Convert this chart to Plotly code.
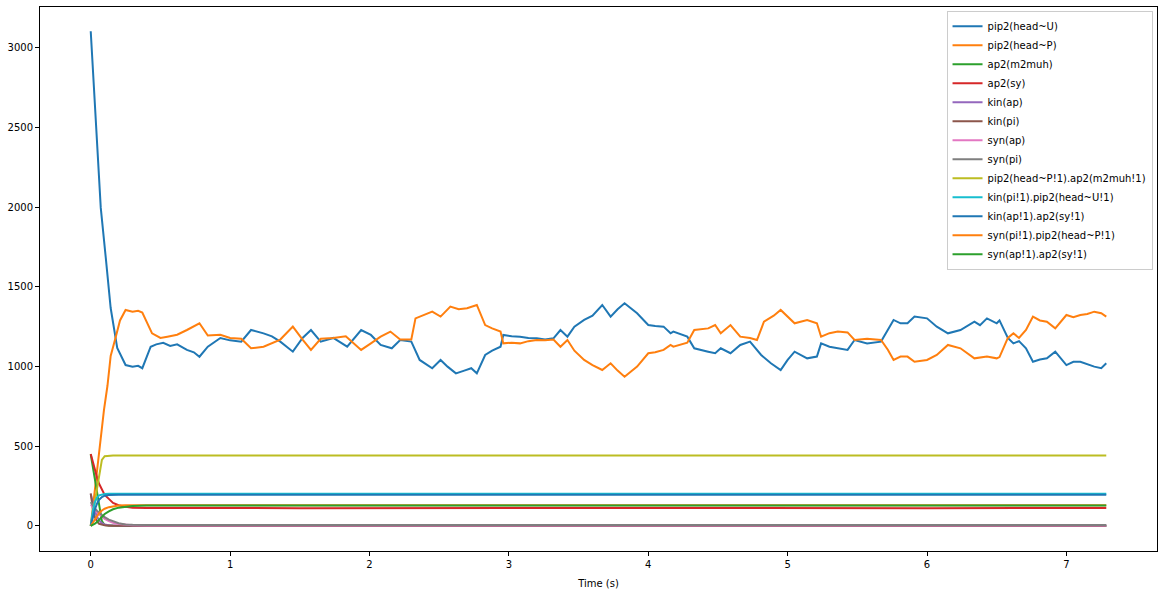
import plotly.graph_objects as go

# pip2 free forms (time in s, copy number)
t_pip2_u = [0, 0.024, 0.048, 0.072, 0.108, 0.143, 0.19, 0.23, 0.25, 0.30, 0.34, 0.37, 0.43, 0.47,
            0.52, 0.57, 0.62, 0.69, 0.74, 0.78, 0.84, 0.93, 1.00, 1.08, 1.15, 1.24, 1.30, 1.36,
            1.45, 1.52, 1.58, 1.65, 1.74, 1.84, 1.94, 2.01, 2.08, 2.16, 2.22, 2.30, 2.36, 2.45,
            2.51, 2.56, 2.62, 2.68, 2.73, 2.77, 2.83, 2.88, 2.94, 2.96, 3.02, 3.08, 3.14, 3.20,
            3.26, 3.32, 3.37, 3.42, 3.47, 3.54, 3.60, 3.67, 3.73, 3.78, 3.83, 3.92, 4.00, 4.05,
            4.11, 4.16, 4.18, 4.28, 4.33, 4.43, 4.48, 4.52, 4.59, 4.66, 4.73, 4.81, 4.88, 4.95,
            5.00, 5.05, 5.14, 5.21, 5.24, 5.30, 5.36, 5.43, 5.48, 5.57, 5.67, 5.72, 5.76, 5.81,
            5.86, 5.91, 6.00, 6.07, 6.15, 6.24, 6.34, 6.38, 6.43, 6.50, 6.52, 6.58, 6.62, 6.66,
            6.71, 6.76, 6.81, 6.86, 6.92, 7.00, 7.05, 7.10, 7.15, 7.20, 7.25, 7.286]
pip2_u = [3105, 2728, 2414, 1996, 1682, 1368, 1117, 1040, 1010, 1000, 1005, 990, 1125, 1140,
          1150, 1130, 1140, 1105, 1090, 1062, 1125, 1180, 1165, 1157, 1230, 1209, 1190, 1157,
          1094, 1180, 1230, 1157, 1180, 1125, 1230, 1199, 1136, 1115, 1167, 1157, 1042, 990,
          1042, 1000, 958, 975, 990, 958, 1073, 1100, 1125, 1199, 1190, 1188, 1180, 1178,
          1170, 1178, 1230, 1188, 1251, 1293, 1320, 1387, 1314, 1360, 1398, 1335, 1261, 1255,
          1251, 1209, 1220, 1188, 1115, 1094, 1084, 1115, 1084, 1136, 1157, 1073, 1021, 979,
          1042, 1094, 1052, 1063, 1146, 1125, 1115, 1105, 1167, 1146, 1157, 1230, 1293, 1272,
          1272, 1314, 1303, 1251, 1209, 1230, 1282, 1260, 1303, 1272, 1290, 1180, 1146, 1160,
          1115, 1031, 1045, 1052, 1094, 1010, 1030, 1031, 1015, 1000, 990, 1021]

t_pip2_p = [0, 0.02, 0.04, 0.06, 0.08, 0.095, 0.12, 0.143, 0.18, 0.21, 0.25, 0.30, 0.34, 0.37,
            0.44, 0.50, 0.55, 0.62, 0.69, 0.78, 0.84, 0.93, 1.00, 1.08, 1.15, 1.24, 1.36, 1.45,
            1.52, 1.58, 1.65, 1.74, 1.83, 1.94, 2.01, 2.08, 2.15, 2.22, 2.30, 2.33, 2.45, 2.51,
            2.58, 2.64, 2.70, 2.77, 2.83, 2.88, 2.94, 2.96, 3.02, 3.08, 3.14, 3.20, 3.26, 3.32,
            3.37, 3.42, 3.47, 3.54, 3.60, 3.67, 3.73, 3.78, 3.83, 3.92, 4.00, 4.05, 4.11, 4.16,
            4.18, 4.28, 4.33, 4.43, 4.48, 4.52, 4.59, 4.66, 4.73, 4.78, 4.83, 4.90, 4.95, 5.00,
            5.05, 5.14, 5.21, 5.24, 5.30, 5.36, 5.43, 5.48, 5.57, 5.67, 5.72, 5.76, 5.81, 5.86,
            5.91, 6.00, 6.07, 6.15, 6.24, 6.34, 6.43, 6.50, 6.52, 6.58, 6.62, 6.66, 6.71, 6.76,
            6.81, 6.86, 6.92, 7.00, 7.05, 7.10, 7.15, 7.20, 7.25, 7.286]
pip2_p = [0, 150, 330, 480, 620, 728, 880, 1067, 1188, 1290, 1356, 1345, 1350, 1340,
          1209, 1180, 1188, 1200, 1230, 1272, 1195, 1200, 1180, 1175, 1115, 1125, 1170, 1251,
          1170, 1105, 1175, 1180, 1190, 1105, 1146, 1188, 1220, 1170, 1170, 1303, 1345, 1314,
          1377, 1360, 1366, 1387, 1261, 1240, 1220, 1146, 1150, 1146, 1160, 1167, 1165, 1170,
          1125, 1167, 1100, 1042, 1010, 979, 1021, 975, 937, 1000, 1084, 1090, 1105, 1136,
          1125, 1150, 1230, 1240, 1261, 1209, 1261, 1188, 1180, 1167, 1282, 1320, 1356, 1314,
          1272, 1293, 1272, 1188, 1210, 1220, 1215, 1167, 1175, 1167, 1105, 1042, 1063, 1063,
          1031, 1042, 1073, 1136, 1115, 1052, 1063, 1052, 1060, 1180, 1209, 1180, 1230, 1314,
          1290, 1282, 1240, 1324, 1310, 1324, 1330, 1345, 1335, 1314]

# the other species settle fast, so one short time grid is enough
t_fast = [0, 0.015, 0.03, 0.045, 0.06, 0.08, 0.1, 0.13, 0.16, 0.2, 0.25, 0.3, 0.4, 1.5, 3.0, 4.5, 6.0, 7.286]
ap2_m2muh = [450, 370, 290, 210, 130, 30, 6, 2, 1, 0, 0, 0, 0, 0, 0, 0, 0, 0]
ap2_sy = [452, 400, 345, 305, 265, 225, 195, 170, 145, 130, 120, 115, 113, 112, 114, 113, 112, 113]
kin_ap = [200, 140, 95, 60, 35, 18, 9, 5, 3, 2, 2, 1, 1, 1, 1, 1, 1, 1]
kin_pi = [205, 110, 55, 28, 14, 7, 4, 2, 2, 1, 1, 1, 1, 1, 1, 1, 1, 1]
syn_ap = [135, 115, 98, 84, 72, 56, 44, 30, 20, 12, 6, 4, 3, 3, 3, 3, 3, 3]
syn_pi = [150, 128, 110, 96, 84, 68, 55, 40, 28, 17, 10, 7, 6, 6, 6, 6, 6, 6]
pip2_ap2 = [0, 80, 160, 240, 320, 415, 438, 442, 443, 443, 443, 443, 443, 443, 443, 443, 443, 443]
kin_pip2 = [0, 95, 150, 178, 192, 198, 201, 202, 202, 202, 202, 202, 202, 202, 202, 202, 202, 202]
kin_ap2 = [0, 60, 105, 140, 165, 182, 190, 194, 196, 196, 196, 196, 196, 196, 196, 196, 196, 196]
syn_pip2 = [0, 22, 45, 65, 80, 97, 108, 118, 124, 128, 130, 130, 130, 130, 130, 130, 130, 130]
syn_ap2 = [0, 6, 14, 25, 38, 58, 75, 92, 105, 115, 122, 126, 128, 128, 128, 128, 128, 128]

tab10 = ["#1f77b4", "#ff7f0e", "#2ca02c", "#d62728", "#9467bd",
         "#8c564b", "#e377c2", "#7f7f7f", "#bcbd22", "#17becf"]

series = [
    ("pip2(head~U)", t_pip2_u, pip2_u),
    ("pip2(head~P)", t_pip2_p, pip2_p),
    ("ap2(m2muh)", t_fast, ap2_m2muh),
    ("ap2(sy)", t_fast, ap2_sy),
    ("kin(ap)", t_fast, kin_ap),
    ("kin(pi)", t_fast, kin_pi),
    ("syn(ap)", t_fast, syn_ap),
    ("syn(pi)", t_fast, syn_pi),
    ("pip2(head~P!1).ap2(m2muh!1)", t_fast, pip2_ap2),
    ("kin(pi!1).pip2(head~U!1)", t_fast, kin_pip2),
    ("kin(ap!1).ap2(sy!1)", t_fast, kin_ap2),
    ("syn(pi!1).pip2(head~P!1)", t_fast, syn_pip2),
    ("syn(ap!1).ap2(sy!1)", t_fast, syn_ap2),
]

fig = go.Figure()
for i, (name, t, v) in enumerate(series):
    fig.add_trace(go.Scatter(x=t, y=v, mode="lines", name=name,
                             line=dict(color=tab10[i % 10], width=2)))

fig.update_layout(
    width=1162, height=589,
    margin=dict(l=40, r=5, t=7, b=38),
    paper_bgcolor="white", plot_bgcolor="white",
    font=dict(family="DejaVu Sans", size=10, color="black"),
    showlegend=True,
    legend=dict(x=0.996, y=0.993, xanchor="right", yanchor="top",
                bgcolor="rgba(255,255,255,0.8)", bordercolor="#cccccc", borderwidth=1,
                font=dict(size=10), tracegroupgap=0),
)
fig.update_xaxes(range=[-0.364, 7.65], tickmode="linear", tick0=0, dtick=1,
                 showgrid=False, zeroline=False, showline=True, linecolor="black",
                 linewidth=1, mirror=True, ticks="outside", ticklen=4, tickcolor="black",
                 automargin=False, title=dict(text="Time (s)", font=dict(size=10)))
fig.update_yaxes(range=[-157, 3257], tickmode="linear", tick0=0, dtick=500,
                 showgrid=False, zeroline=False, showline=True, linecolor="black",
                 linewidth=1, mirror=True, ticks="outside", ticklen=4, tickcolor="black",
                 automargin=False)

# page body has a default 8px margin, drop it so the figure sits at the corner
fig.write_html("out.html", config={"displayModeBar": False},
               post_script="document.body.style.margin='0';")
